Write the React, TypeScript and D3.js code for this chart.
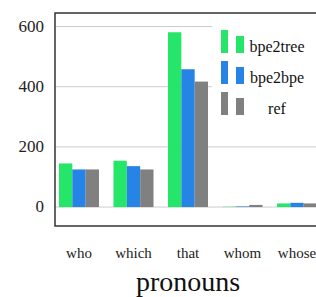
import React from "react";
import * as d3 from "d3";

const categories = ["who", "which", "that", "whom", "whose"];
const bpe2tree = [145, 154, 581, 1, 12];
const bpe2bpe = [125, 136, 458, 2, 14];
const ref = [125, 125, 417, 7, 12];
const yTicks = [0, 200, 400, 600];
const seriesNames = ["bpe2tree", "bpe2bpe", "ref"];
const colors = ["#26e66a", "#2684e6", "#808080"];

const width = 316;
const height = 297;
const margin = { top: 13, right: -5, bottom: 71, left: 55 };
const serif = "'Liberation Serif', 'Times New Roman', serif";

const App: React.FC = () => {
  const series = [bpe2tree, bpe2bpe, ref];
  const plotRight = width - margin.right;
  const plotBottom = height - margin.bottom;

  const y = d3.scaleLinear().domain([-63, 645]).range([plotBottom, margin.top]);
  const x = d3
    .scaleBand()
    .domain(categories)
    .range([margin.left, plotRight])
    .paddingInner(0.266)
    .paddingOuter(0.073);
  const xs = d3
    .scaleBand()
    .domain(seriesNames)
    .range([0, x.bandwidth()]);

  React.useEffect(() => {
    document.body.style.margin = "0";
  }, []);

  return (
    <svg width={width} height={height} style={{ display: "block" }}>
      <rect width={width} height={height} fill="#fff" />
      {/* grid */}
      {yTicks.map((t) => (
        <line
          key={t}
          x1={margin.left}
          x2={plotRight}
          y1={y(t)}
          y2={y(t)}
          stroke="#cccccc"
          strokeWidth={1}
        />
      ))}
      {/* legend background */}
      <rect x={212} y={margin.top} width={plotRight - 212} height={118} fill="#fff" />
      {/* bars */}
      {series.map((vals, si) =>
        vals.map((v, i) => (
          <rect
            key={`${si}-${i}`}
            x={(x(categories[i]) || 0) + (xs(seriesNames[si]) || 0)}
            y={y(Math.max(v, 0))}
            width={xs.bandwidth()}
            height={Math.abs(y(0) - y(v))}
            fill={colors[si]}
          />
        ))
      )}
      {/* frame */}
      <rect
        x={margin.left}
        y={margin.top}
        width={plotRight - margin.left}
        height={plotBottom - margin.top}
        fill="none"
        stroke="#333"
        strokeWidth={1.5}
      />
      {/* y ticks */}
      {yTicks.map((t) => (
        <text
          key={t}
          x={44}
          y={y(t) + 5}
          textAnchor="end"
          style={{ fontFamily: serif, fontSize: 17 }}
          fill="#222"
        >
          {t}
        </text>
      ))}
      {/* x labels */}
      {categories.map((c) => (
        <text
          key={c}
          x={(x(c) || 0) + x.bandwidth() / 2}
          y={258}
          textAnchor="middle"
          style={{ fontFamily: serif, fontSize: 15 }}
          fill="#222"
        >
          {c}
        </text>
      ))}
      <text
        x={(x("that") || 0) + x.bandwidth() / 2}
        y={291}
        textAnchor="middle"
        style={{ fontFamily: serif, fontSize: 28 }}
        fill="#111"
      >
        pronouns
      </text>
      {/* legend */}
      {seriesNames.map((name, i) => {
        const base = 53 + i * 31;
        return (
          <g key={name}>
            <rect x={221} y={base - 23} width={7} height={23} fill={colors[i]} />
            <rect x={236} y={base - 17} width={8} height={17} fill={colors[i]} />
            <text
              x={277}
              y={base - 1}
              textAnchor="middle"
              style={{ fontFamily: serif, fontSize: 16 }}
              fill="#111"
            >
              {name}
            </text>
          </g>
        );
      })}
    </svg>
  );
};

export default App;
